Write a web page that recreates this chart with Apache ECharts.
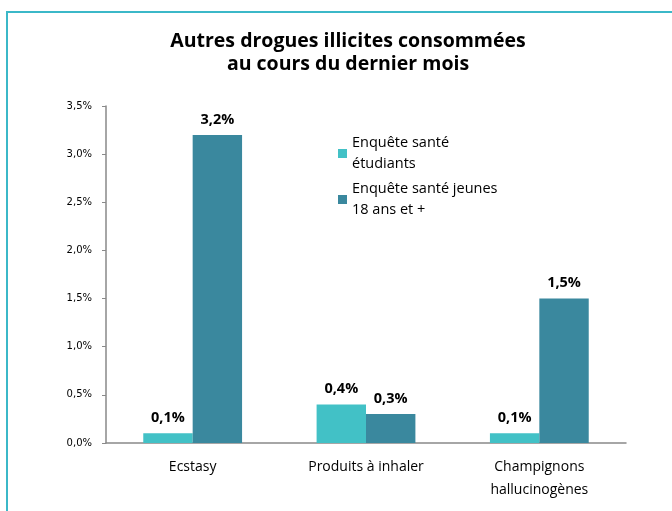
<!DOCTYPE html>
<html>
<head>
<meta charset="utf-8">
<script src="https://cdn.jsdelivr.net/npm/echarts@6/dist/echarts.min.js"></script>
<style>
  html, body { margin: 0; padding: 0; background: #fff; }
  #frame { position: absolute; left: 6px; top: 11px; width: 700px; height: 520px;
           border-left: 2px solid #3bb8c8; border-top: 2px solid #3bb8c8; }
  #chart { position: absolute; left: 0; top: 0; width: 672px; height: 511px; }
</style>
</head>
<body>
<div id="frame"></div>
<div id="chart"></div>
<script>
const categories = ['Ecstasy', 'Produits à inhaler', 'Champignons\nhallucinogènes'];
const seriesNames = ['Enquête santé\nétudiants', 'Enquête santé jeunes\n18 ans et +'];
const etudiants = [0.1, 0.4, 0.1];
const jeunes = [3.2, 0.3, 1.5];
const yTicks = [0, 0.5, 1.0, 1.5, 2.0, 2.5, 3.0, 3.5];

const colors = ['#42c1c6', '#3a889e'];
const axisColor = '#898989';
const fr = v => v.toFixed(1).replace('.', ',') + '%';

const chart = echarts.init(document.getElementById('chart'));

const barLabel = {
  show: true,
  position: 'top',
  distance: 8,
  color: '#000',
  fontWeight: 'bold',
  fontSize: 14.5,
  fontFamily: 'Open Sans',
  formatter: p => fr(p.value)
};

chart.setOption({
  animation: false,
  title: {
    text: 'Autres drogues illicites consommées\nau cours du dernier mois',
    left: 343,
    textAlign: 'center',
    top: 25,
    textStyle: {
      color: '#000',
      fontSize: 19.5,
      fontWeight: 'bold',
      fontFamily: 'Open Sans',
      lineHeight: 23
    }
  },
  legend: {
    orient: 'vertical',
    left: 333,
    top: 117,
    itemWidth: 9,
    itemHeight: 9,
    itemGap: -17,
    icon: 'rect',
    textStyle: {
      color: '#000', fontSize: 14.5, fontFamily: 'Open Sans', lineHeight: 21,
      // top padding keeps the square level with the first text line
      padding: [21, 0, 0, 0]
    },
    data: seriesNames
  },
  grid: { left: 106, right: 46, top: 106, bottom: 68 },
  xAxis: {
    type: 'category',
    data: categories,
    axisLine: { lineStyle: { color: axisColor, width: 1.5 } },
    axisTick: { length: 5, lineStyle: { color: axisColor } },
    axisLabel: { color: '#000', fontSize: 14, fontFamily: 'Open Sans', margin: 13, lineHeight: 23 }
  },
  yAxis: {
    type: 'value',
    min: yTicks[0],
    max: yTicks[yTicks.length - 1],
    interval: 0.5,
    axisLine: { show: true, lineStyle: { color: axisColor, width: 1.5 } },
    axisTick: { show: true, length: 4, lineStyle: { color: axisColor } },
    splitLine: { show: false },
    axisLabel: { color: '#000', fontSize: 10, fontFamily: 'DejaVu Sans', margin: 14, formatter: v => fr(v) }
  },
  series: [
    {
      name: seriesNames[0],
      type: 'bar',
      data: etudiants,
      barGap: '0%',
      barCategoryGap: '43%',
      itemStyle: { color: colors[0] },
      label: barLabel
    },
    {
      name: seriesNames[1],
      type: 'bar',
      data: jeunes,
      itemStyle: { color: colors[1] },
      label: barLabel
    }
  ]
});
</script>
</body>
</html>
